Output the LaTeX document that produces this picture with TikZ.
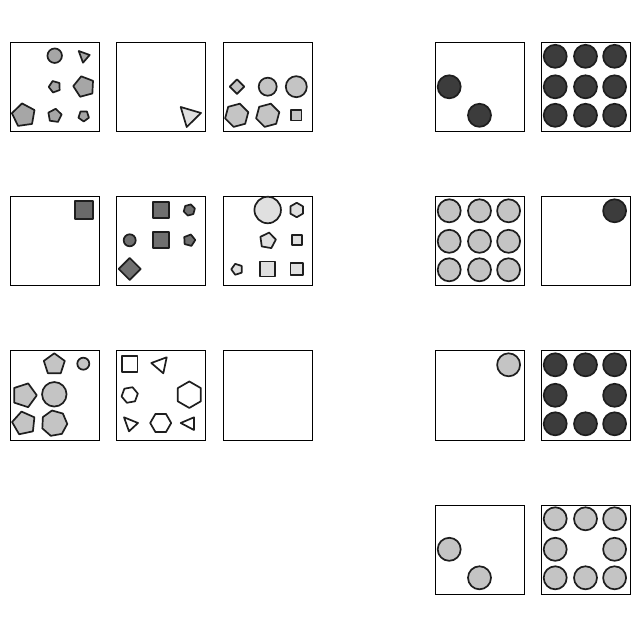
\documentclass[tikz,border=0pt]{standalone}
\usetikzlibrary{shapes.geometric}
\definecolor{gA}{HTML}{A6A6A6}
\definecolor{gB}{HTML}{C4C4C4}
\definecolor{gC}{HTML}{E0E0E0}
\definecolor{gD}{HTML}{707070}
\definecolor{gE}{HTML}{6A6A6A}
\definecolor{dk}{HTML}{3C3C3C}
\definecolor{ln}{HTML}{1E1E1E}
\tikzset{
  panel/.style={draw=black, line width=1pt, minimum size=89pt, inner sep=0pt, fill=white},
  shp/.style={draw=ln, line width=1.7pt, inner sep=0pt, outer sep=0pt, line join=round},
  circ/.style={shp, circle, minimum size=#1},
  poly/.style n args={3}{shp, regular polygon, regular polygon sides=#1, minimum size=#2, shape border rotate=#3},
  sq/.style={shp, rectangle, minimum size=#1},
  tri/.style={draw=ln, line width=1.7pt, line join=round},
  bigc/.style={shp, circle, minimum size=23pt}
}
\begin{document}
\begin{tikzpicture}[x=1pt,y=-1pt]
\useasboundingbox (0,0) rectangle (640,636);
% panels
\node[panel] (p11) at (55,87) {};
\node[panel] (p12) at (161,87) {};
\node[panel] (p13) at (267.5,87) {};
\node[panel] (p21) at (55,241.5) {};
\node[panel] (p22) at (161,241.5) {};
\node[panel] (p23) at (267.5,241.5) {};
\node[panel] (p31) at (55,395.5) {};
\node[panel] (p32) at (161,395.5) {};
\node[panel] (p33) at (267.5,395.5) {};
\node[panel] (r11) at (480,87) {};
\node[panel] (r12) at (586,87) {};
\node[panel] (r21) at (480,241.5) {};
\node[panel] (r22) at (586,241.5) {};
\node[panel] (r31) at (480,395.5) {};
\node[panel] (r32) at (586,395.5) {};
\node[panel] (r41) at (480,549.5) {};
\node[panel] (r42) at (586,549.5) {};

% panel 1,1
\node[circ=14.5pt, fill=gA] (a1) at (54.7,55.7) {};
\draw[tri, fill=gA] (78.7,51) -- (89.7,55) -- (83,62.7) -- cycle;
\node[poly={5}{12pt}{20}, fill=gA] (a3) at (54.7,86.7) {};
\node[poly={5}{21.5pt}{15}, fill=gA] (a4) at (84,86.7) {};
\node[poly={5}{24pt}{8}, fill=gA] (a5) at (23.7,115.3) {};
\node[poly={5}{14pt}{-8}, fill=gA] (a6) at (54.7,115.7) {};
\node[poly={5}{11pt}{180}, fill=gA] (a7) at (83.7,116) {};

% panel 1,2
\draw[tri, fill=gC] (180.7,107) -- (201,113) -- (186.7,127) -- cycle;

% panel 1,3
\node[poly={4}{14.5pt}{45}, fill=gB] (c1) at (237,86.7) {};
\node[circ=18pt, fill=gB] (c2) at (267.7,86.7) {};
\node[circ=21pt, fill=gB] (c3) at (296.3,86.7) {};
\node[poly={6}{24pt}{15}, fill=gB] (c4) at (236.7,115.3) {};
\node[poly={6}{24pt}{15}, fill=gB] (c5) at (267.7,115.3) {};
\node[sq=10.5pt, fill=gB] (c6) at (296.3,115.3) {};

% panel 2,1
\node[sq=18pt, fill=gE] (d1) at (84,210.3) {};

% panel 2,2
\node[sq=16pt, fill=gD] (e1) at (160.7,210) {};
\node[poly={6}{11.5pt}{15}, fill=gD] (e2) at (189.3,210) {};
\node[circ=12pt, fill=gD] (e3) at (129.7,240.3) {};
\node[sq=16pt, fill=gD] (e4) at (160.7,240.3) {};
\node[poly={5}{12pt}{-15}, fill=gD] (e5) at (189.3,240.3) {};
\node[poly={4}{22pt}{45}, fill=gD] (e6) at (129.7,269) {};

% panel 2,3
\node[circ=26.5pt, fill=gC] (f1) at (267.7,210) {};
\node[poly={6}{14.5pt}{30}, fill=gC] (f2) at (296.7,210) {};
\node[poly={5}{16.5pt}{-10}, fill=gC] (f3) at (267.7,240.7) {};
\node[sq=10pt, fill=gC] (f4) at (296.7,240.3) {};
\node[poly={5}{11.5pt}{90}, fill=gC] (f5) at (237,269.3) {};
\node[sq=15pt, fill=gC] (f6) at (267.7,269) {};
\node[sq=12.5pt, fill=gC] (f7) at (296.7,269) {};

% panel 3,1
\node[poly={5}{22pt}{0}, fill=gB] (g1) at (54.3,364.3) {};
\node[circ=12pt, fill=gB] (g2) at (83.3,363.7) {};
\node[poly={5}{25pt}{-90}, fill=gB] (g3) at (24.3,395.3) {};
\node[circ=24.5pt, fill=gB] (g4) at (54.3,394.3) {};
\node[poly={5}{24pt}{12}, fill=gB] (g5) at (24,423.3) {};
\node[poly={7}{26pt}{10}, fill=gB] (g6) at (54.3,423.3) {};

% panel 3,2
\node[sq=15.5pt, fill=white] (h1) at (129.7,364) {};
\draw[tri, fill=white] (151.3,363) -- (166.7,357.3) -- (163.3,373.3) -- cycle;
\node[poly={6}{16.5pt}{10}, fill=white] (h3) at (129.7,395) {};
\node[poly={6}{26.5pt}{30}, fill=white] (h4) at (189.3,394.7) {};
\draw[tri, fill=white] (124,417.3) -- (138,423) -- (129,431.3) -- cycle;
\node[poly={6}{21pt}{0}, fill=white] (h6) at (160.7,423) {};
\draw[tri, fill=white] (180.7,423) -- (194,417.3) -- (194,430) -- cycle;

% right panels
% r11
\node[bigc, fill=dk] (k1) at (449.2,86.8) {};
\node[bigc, fill=dk] (k2) at (479.5,115.3) {};
% r12 full dark 3x3
\foreach \i/\xx in {0/555.2,1/585.5,2/614.6}{
  \foreach \j/\yy in {0/56.3,1/86.8,2/115.3}{
    \node[bigc, fill=dk] (m\i\j) at (\xx,\yy) {};
  }
}
% r21 full light 3x3
\foreach \i/\xx in {0/449.2,1/479.5,2/508.6}{
  \foreach \j/\yy in {0/210.8,1/241.3,2/269.8}{
    \node[bigc, fill=gB] (n\i\j) at (\xx,\yy) {};
  }
}
% r22
\node[bigc, fill=dk] (q1) at (614.6,210.8) {};
% r31
\node[bigc, fill=gB] (s1) at (508.6,364.8) {};
% r32 ring dark
\foreach \i/\xx in {0/555.2,1/585.5,2/614.6}{
  \foreach \j/\yy in {0/364.8,1/395.3,2/423.8}{
    \ifnum\i\j=11 \else
    \node[bigc, fill=dk] (t\i\j) at (\xx,\yy) {};
    \fi
  }
}
% r41
\node[bigc, fill=gB] (u1) at (449.2,549.3) {};
\node[bigc, fill=gB] (u2) at (479.5,577.8) {};
% r42 ring light
\foreach \i/\xx in {0/555.2,1/585.5,2/614.6}{
  \foreach \j/\yy in {0/518.8,1/549.3,2/577.8}{
    \ifnum\i\j=11 \else
    \node[bigc, fill=gB] (v\i\j) at (\xx,\yy) {};
    \fi
  }
}
\end{tikzpicture}
\end{document}
